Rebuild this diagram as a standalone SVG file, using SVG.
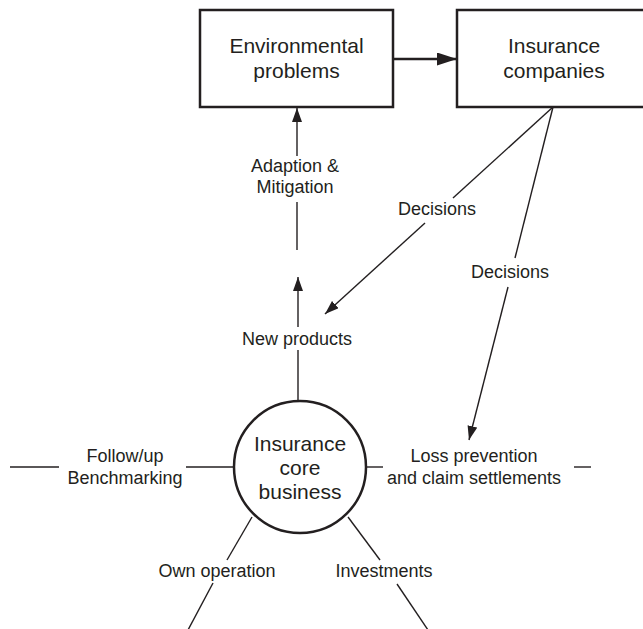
<svg xmlns="http://www.w3.org/2000/svg" width="643" height="629" viewBox="0 0 643 629">
<style>
.box{fill:#fff;stroke:#231f20;stroke-width:2.5}
.ln{stroke:#231f20;stroke-width:1.4;fill:none}
.thick{stroke:#231f20;stroke-width:2.5;fill:none}
.bt{font-family:"Liberation Sans",Arial,sans-serif;font-size:21px;fill:#231f20;text-anchor:middle}
.lb{font-family:"Liberation Sans",Arial,sans-serif;font-size:18px;fill:#231f20;text-anchor:middle}
</style>
<defs>
<marker id="ah" markerUnits="userSpaceOnUse" markerWidth="16" markerHeight="12" refX="14" refY="5" orient="auto">
<path d="M0,0 L14,5 L0,10 Z" fill="#231f20"/>
</marker>
<marker id="ahb" markerUnits="userSpaceOnUse" markerWidth="22" markerHeight="14" refX="20" refY="6.5" orient="auto">
<path d="M0,0 L20,6.5 L0,13 Z" fill="#231f20"/>
</marker>
</defs>
<rect width="643" height="629" fill="#fff"/>
<g id="connectors">
<line class="thick" x1="393" y1="59" x2="457" y2="59" marker-end="url(#ahb)"/>
<line class="ln" x1="297" y1="250" x2="297" y2="202"/>
<line class="ln" x1="297" y1="156" x2="297" y2="108" marker-end="url(#ah)"/>
<line class="ln" x1="298" y1="401" x2="298" y2="350"/>
<line class="ln" x1="298" y1="327" x2="298" y2="277" marker-end="url(#ah)"/>
<line class="ln" x1="553" y1="107" x2="453" y2="198"/>
<line class="ln" x1="425" y1="223" x2="325" y2="314" marker-end="url(#ah)"/>
<line class="ln" x1="553" y1="107" x2="515" y2="258"/>
<line class="ln" x1="508" y1="287" x2="469" y2="440" marker-end="url(#ah)"/>
<line class="ln" x1="10" y1="467" x2="59" y2="467"/>
<line class="ln" x1="186" y1="467" x2="234" y2="467"/>
<line class="ln" x1="366" y1="467" x2="383" y2="467"/>
<line class="ln" x1="574" y1="467" x2="591" y2="467"/>
<line class="ln" x1="252" y1="517" x2="227" y2="560"/>
<line class="ln" x1="213" y1="583" x2="188" y2="630"/>
<line class="ln" x1="348" y1="517" x2="380" y2="560"/>
<line class="ln" x1="397" y1="584" x2="428" y2="630"/>
<text class="lb" x="295" y="172">Adaption &amp;</text>
<text class="lb" x="295" y="193">Mitigation</text>
<text class="lb" x="437" y="215">Decisions</text>
<text class="lb" x="510" y="278">Decisions</text>
<text class="lb" x="297" y="345">New products</text>
<text class="lb" x="125" y="462">Follow/up</text>
<text class="lb" x="125" y="484">Benchmarking</text>
<text class="lb" x="474" y="462">Loss prevention</text>
<text class="lb" x="474" y="484">and claim settlements</text>
<text class="lb" x="217" y="577">Own operation</text>
<text class="lb" x="384" y="577">Investments</text>
</g>
<g id="env">
<rect class="box" x="200" y="10" width="193" height="97"/>
<text class="bt" x="296.5" y="53">Environmental</text>
<text class="bt" x="296.5" y="78">problems</text>
</g>
<g id="ins">
<rect class="box" x="457" y="10" width="194" height="97"/>
<text class="bt" x="554" y="53">Insurance</text>
<text class="bt" x="554" y="78">companies</text>
</g>
<g id="core">
<circle class="box" cx="300" cy="467" r="66"/>
<text class="bt" x="300" y="451">Insurance</text>
<text class="bt" x="300" y="475">core</text>
<text class="bt" x="300" y="499">business</text>
</g>
</svg>
